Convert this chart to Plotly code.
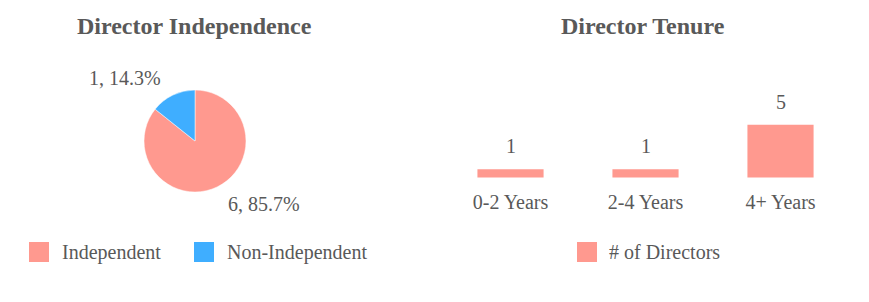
import plotly.graph_objects as go

W, H = 869, 302

# ---- data ----
pie_labels = ["Independent", "Non-Independent"]
pie_values = [6, 1]
pie_colors = ["#FF998F", "#3FAEFF"]

bar_categories = ["0-2 Years", "2-4 Years", "4+ Years"]
bar_values = [1, 1, 5]
bar_series_name = "# of Directors"
bar_color = "#FF998F"

title_left = "Director Independence"
title_right = "Director Tenure"

FONT = "Liberation Serif"
TXT = "#595959"

def px_x(p):
    return p / W

def px_y(p):
    return 1 - p / H

fig = go.Figure()

# pie
cx, cy, r = 195, 141, 51
fig.add_trace(go.Pie(
    labels=pie_labels, values=pie_values, sort=False, direction="clockwise",
    rotation=0, textinfo="none", hoverinfo="label+value+percent",
    marker=dict(colors=pie_colors, line=dict(color="white", width=0.5)),
    domain=dict(x=[px_x(cx - r), px_x(cx + r)], y=[px_y(cy + r), px_y(cy - r)]),
    showlegend=False,
))

# bars
fig.add_trace(go.Bar(
    x=bar_categories, y=bar_values, name=bar_series_name,
    marker=dict(color=bar_color, line=dict(width=0)), width=0.49,
    showlegend=False, xaxis="x", yaxis="y",
))

annotations = []
# titles
annotations.append(dict(text=f"<b>{title_left}</b>", x=px_x(194.5), y=px_y(26), xref="paper", yref="paper",
                        showarrow=False, font=dict(family=FONT, size=24, color=TXT), xanchor="center", yanchor="middle"))
annotations.append(dict(text=f"<b>{title_right}</b>", x=px_x(643), y=px_y(26), xref="paper", yref="paper",
                        showarrow=False, font=dict(family=FONT, size=24, color=TXT), xanchor="center", yanchor="middle"))

# pie labels
total = sum(pie_values)
pie_label_pos = [(263.5, 204), (125, 78)]
for v, (lx, ly) in zip(pie_values, pie_label_pos):
    annotations.append(dict(text=f"{v}, {v / total * 100:.1f}%", x=px_x(lx), y=px_y(ly), xref="paper", yref="paper",
                            showarrow=False, font=dict(family=FONT, size=20, color=TXT),
                            xanchor="center", yanchor="middle"))

# bar value labels
for c, v in zip(bar_categories, bar_values):
    annotations.append(dict(text=str(v), x=c, y=v, xref="x", yref="y", showarrow=False,
                            font=dict(family=FONT, size=20, color=TXT), xanchor="center", yanchor="bottom",
                            yshift=10))

# manual legends
shapes = []
legend_items = [
    (pie_labels[0], pie_colors[0], 29, 60),
    (pie_labels[1], pie_colors[1], 194, 225),
    (bar_series_name, bar_color, 577, 607),
]
for name, col, sx, tx in legend_items:
    shapes.append(dict(type="rect", xref="paper", yref="paper",
                       x0=px_x(sx), x1=px_x(sx + 20), y0=px_y(262), y1=px_y(242),
                       fillcolor=col, line=dict(width=0)))
    annotations.append(dict(text=name, x=px_x(tx), y=px_y(252), xref="paper", yref="paper", showarrow=False,
                            font=dict(family=FONT, size=20, color=TXT), xanchor="left", yanchor="middle"))

base_px = 177.5
ppu = 11.1
y_min, y_max = 0.25, 6.0
top_px = base_px - (y_max - y_min) * ppu

fig.update_layout(
    width=W, height=H, margin=dict(l=0, r=0, t=0, b=0),
    paper_bgcolor="white", plot_bgcolor="white",
    showlegend=False,
    font=dict(family=FONT, color=TXT),
    xaxis=dict(domain=[px_x(443), px_x(848)], range=[-0.5, 2.5], showgrid=False, zeroline=False,
               showline=False, ticks="", ticklabelstandoff=10,
               tickfont=dict(family=FONT, size=20, color=TXT), fixedrange=True),
    yaxis=dict(domain=[px_y(base_px), px_y(top_px)], range=[y_min, y_max], visible=False, fixedrange=True),
    annotations=annotations, shapes=shapes,
)

fig.write_html("out.html")
